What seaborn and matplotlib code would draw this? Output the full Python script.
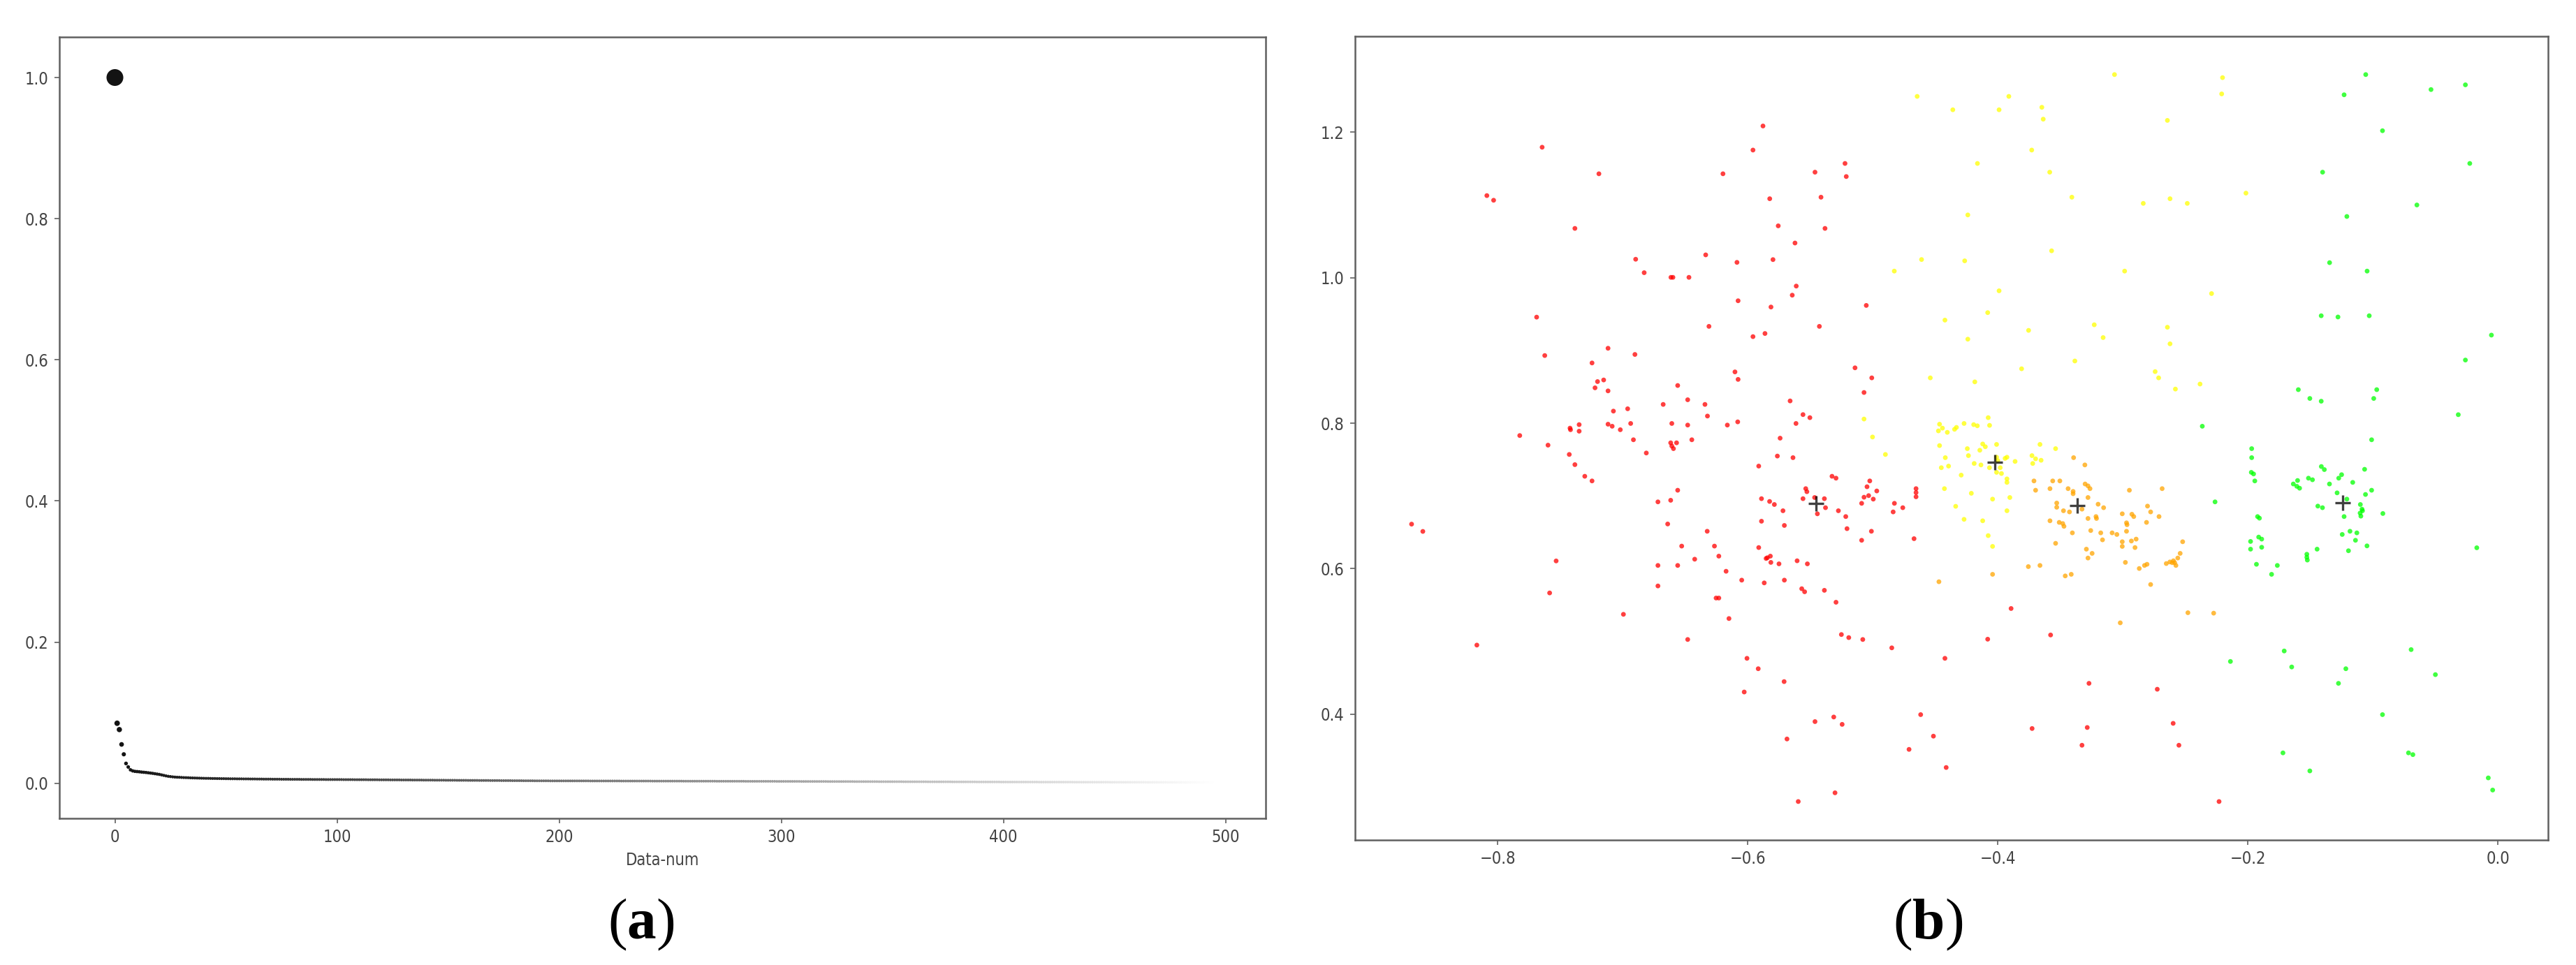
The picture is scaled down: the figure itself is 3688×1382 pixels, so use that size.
import matplotlib
matplotlib.use("Agg")
import matplotlib.pyplot as plt
import numpy as np
import pandas as pd
import seaborn as sns

# ---------------- panel (a): sorted weights ----------------
weight_values = [
    1.0, 0.085, 0.076, 0.055, 0.041, 0.028, 0.023, 0.019, 0.0175, 0.0168,
    0.0165, 0.0162, 0.0158, 0.0155, 0.0152, 0.0148, 0.0144, 0.0140, 0.0135, 0.0130,
    0.0125, 0.0118, 0.0111, 0.0104, 0.0098, 0.0094, 0.0090, 0.0087, 0.0085, 0.0084,
    0.0082, 0.0080, 0.0079, 0.0078, 0.0076, 0.0075, 0.0074, 0.0073, 0.0072, 0.0071,
    0.0070, 0.0069, 0.0069, 0.0068, 0.0067, 0.0067, 0.0066, 0.0066, 0.0065, 0.0065,
    0.0064, 0.0064, 0.0063, 0.0063, 0.0063, 0.0062, 0.0062, 0.0062, 0.0061, 0.0061,
    0.0061, 0.0060, 0.0060, 0.0060, 0.0059, 0.0059, 0.0059, 0.0058, 0.0058, 0.0058,
    0.0058, 0.0057, 0.0057, 0.0057, 0.0057, 0.0056, 0.0056, 0.0056, 0.0056, 0.0055,
    0.0055, 0.0055, 0.0055, 0.0055, 0.0054, 0.0054, 0.0054, 0.0054, 0.0054, 0.0053,
    0.0053, 0.0053, 0.0053, 0.0053, 0.0053, 0.0052, 0.0052, 0.0052, 0.0052, 0.0052,
    0.0052, 0.0052, 0.0052, 0.0051, 0.0051, 0.0051, 0.0051, 0.0051, 0.0050, 0.0050,
    0.0050, 0.0050, 0.0050, 0.0050, 0.0049, 0.0049, 0.0049, 0.0049, 0.0049, 0.0048,
    0.0048, 0.0048, 0.0048, 0.0048, 0.0047, 0.0047, 0.0047, 0.0047, 0.0047, 0.0046,
    0.0046, 0.0046, 0.0046, 0.0046, 0.0045, 0.0045, 0.0045, 0.0045, 0.0045, 0.0044,
    0.0044, 0.0044, 0.0044, 0.0044, 0.0043, 0.0043, 0.0043, 0.0043, 0.0043, 0.0042,
    0.0042, 0.0042, 0.0042, 0.0042, 0.0041, 0.0041, 0.0041, 0.0041, 0.0041, 0.0040,
    0.0040, 0.0040, 0.0040, 0.0040, 0.0039, 0.0039, 0.0039, 0.0039, 0.0039, 0.0038,
    0.0038, 0.0038, 0.0038, 0.0038, 0.0037, 0.0037, 0.0037, 0.0037, 0.0037, 0.0036,
    0.0036, 0.0036, 0.0036, 0.0036, 0.0035, 0.0035, 0.0035, 0.0035, 0.0035, 0.0034,
    0.0034, 0.0034, 0.0034, 0.0034, 0.0034, 0.0034, 0.0033, 0.0033, 0.0033, 0.0033,
    0.0033, 0.0033, 0.0033, 0.0033, 0.0033, 0.0033, 0.0033, 0.0033, 0.0033, 0.0033,
    0.0033, 0.0033, 0.0033, 0.0033, 0.0032, 0.0032, 0.0032, 0.0032, 0.0032, 0.0032,
    0.0032, 0.0032, 0.0032, 0.0032, 0.0032, 0.0032, 0.0032, 0.0032, 0.0031, 0.0031,
    0.0031, 0.0031, 0.0031, 0.0031, 0.0031, 0.0031, 0.0031, 0.0031, 0.0031, 0.0031,
    0.0031, 0.0031, 0.0030, 0.0030, 0.0030, 0.0030, 0.0030, 0.0030, 0.0030, 0.0030,
    0.0030, 0.0030, 0.0030, 0.0030, 0.0030, 0.0030, 0.0029, 0.0029, 0.0029, 0.0029,
    0.0029, 0.0029, 0.0029, 0.0029, 0.0029, 0.0029, 0.0029, 0.0029, 0.0029, 0.0029,
    0.0029, 0.0028, 0.0028, 0.0028, 0.0028, 0.0028, 0.0028, 0.0028, 0.0028, 0.0028,
    0.0028, 0.0028, 0.0028, 0.0028, 0.0027, 0.0027, 0.0027, 0.0027, 0.0027, 0.0027,
    0.0027, 0.0027, 0.0027, 0.0027, 0.0027, 0.0027, 0.0027, 0.0027, 0.0026, 0.0026,
    0.0026, 0.0026, 0.0026, 0.0026, 0.0026, 0.0026, 0.0026, 0.0026, 0.0026, 0.0025,
    0.0025, 0.0025, 0.0025, 0.0025, 0.0025, 0.0025, 0.0025, 0.0025, 0.0025, 0.0025,
    0.0025, 0.0024, 0.0024, 0.0024, 0.0024, 0.0024, 0.0024, 0.0024, 0.0024, 0.0024,
    0.0024, 0.0024, 0.0024, 0.0023, 0.0023, 0.0023, 0.0023, 0.0023, 0.0023, 0.0023,
    0.0023, 0.0023, 0.0023, 0.0023, 0.0022, 0.0022, 0.0022, 0.0022, 0.0022, 0.0022,
    0.0022, 0.0022, 0.0022, 0.0022, 0.0022, 0.0021, 0.0021, 0.0021, 0.0021, 0.0021,
    0.0021, 0.0021, 0.0021, 0.0021, 0.0021, 0.0021, 0.0020, 0.0020, 0.0020, 0.0020,
    0.0020, 0.0020, 0.0020, 0.0020, 0.0020, 0.0020, 0.0020, 0.0019, 0.0019, 0.0019,
    0.0019, 0.0019, 0.0019, 0.0019, 0.0019, 0.0019, 0.0019, 0.0019, 0.0018, 0.0018,
    0.0018, 0.0018, 0.0018, 0.0018, 0.0018, 0.0018, 0.0018, 0.0018, 0.0018, 0.0017,
    0.0017, 0.0017, 0.0017, 0.0017, 0.0017, 0.0017, 0.0017, 0.0017, 0.0017, 0.0017,
    0.0017, 0.0017, 0.0017, 0.0017, 0.0017, 0.0017, 0.0016, 0.0016, 0.0016, 0.0016,
    0.0016, 0.0016, 0.0016, 0.0016, 0.0016, 0.0016, 0.0016, 0.0016, 0.0016, 0.0016,
    0.0016, 0.0016, 0.0015, 0.0015, 0.0015, 0.0015, 0.0015, 0.0015, 0.0015, 0.0015,
    0.0015, 0.0015, 0.0015, 0.0015, 0.0015, 0.0015, 0.0015, 0.0015, 0.0014, 0.0014,
    0.0014, 0.0014, 0.0014, 0.0014, 0.0014, 0.0014, 0.0014, 0.0014, 0.0014, 0.0014,
    0.0014, 0.0014, 0.0014, 0.0014, 0.0013, 0.0013, 0.0013, 0.0013, 0.0013, 0.0013,
    0.0013, 0.0013, 0.0013, 0.0013, 0.0013, 0.0013, 0.0013, 0.0013, 0.0013, 0.0013,
    0.0013, 0.0013, 0.0012, 0.0012, 0.0012, 0.0012, 0.0012, 0.0012, 0.0012, 0.0012,
    0.0012, 0.0012, 0.0012, 0.0012, 0.0012, 0.0012, 0.0011, 0.0011,
]
a_xlabel = "Data-num"
a_xticks = [0, 100, 200, 300, 400, 500]
a_yticks = [0.0, 0.2, 0.4, 0.6, 0.8, 1.0]

# ---------------- panel (b): clustered points ----------------
red_points = [
    (-0.4654, 0.7101), (-0.4654, 0.7047), (-0.4654, 0.6989), (-0.4827, 0.6899), (-0.4837, 0.6781),
    (-0.4760, 0.6839), (-0.4670, 0.6413), (-0.3894, 0.5453),
    (-0.6560, 0.8519), (-0.6960, 0.8199), (-0.6936, 0.7997), (-0.6914, 0.7773), (-0.6811, 0.7591),
    (-0.6676, 0.8259), (-0.6480, 0.8323), (-0.6342, 0.8259), (-0.6322, 0.8099), (-0.6607, 0.7997),
    (-0.6480, 0.7975), (-0.6163, 0.7975), (-0.6080, 0.8019), (-0.6616, 0.7731), (-0.6569, 0.7731),
    (-0.6607, 0.7687), (-0.6594, 0.7651), (-0.6447, 0.7773), (-0.5661, 0.8307), (-0.5558, 0.8119),
    (-0.5503, 0.8077), (-0.5614, 0.7997), (-0.5741, 0.7795), (-0.5763, 0.7549), (-0.5638, 0.7527),
    (-0.5912, 0.7411), (-0.5070, 0.8423), (-0.5326, 0.7271), (-0.5294, 0.7245), (-0.5536, 0.7101),
    (-0.5527, 0.7059), (-0.5890, 0.6963), (-0.5825, 0.6925), (-0.5787, 0.6883), (-0.5718, 0.6797),
    (-0.5558, 0.6963), (-0.5465, 0.6979), (-0.5387, 0.6963), (-0.5443, 0.6755), (-0.5378, 0.6839),
    (-0.5275, 0.6797), (-0.5216, 0.6717), (-0.5206, 0.6551), (-0.5024, 0.7207), (-0.5046, 0.7127),
    (-0.4968, 0.7069), (-0.5070, 0.6983), (-0.5033, 0.7005), (-0.4996, 0.6957), (-0.5089, 0.6899),
    (-0.5011, 0.6515), (-0.5089, 0.6391), (-0.5890, 0.6653), (-0.5707, 0.6595), (-0.6560, 0.7079),
    (-0.6718, 0.6919), (-0.6616, 0.6941), (-0.6640, 0.6615), (-0.6324, 0.6515), (-0.6528, 0.6311),
    (-0.6266, 0.6311), (-0.6231, 0.6173), (-0.6424, 0.6131), (-0.6718, 0.6045), (-0.6560, 0.6045),
    (-0.6173, 0.5965), (-0.6718, 0.5763), (-0.6048, 0.5843), (-0.5912, 0.6291), (-0.5843, 0.6151),
    (-0.5819, 0.6173), (-0.5853, 0.6141), (-0.5815, 0.6087), (-0.5750, 0.6067), (-0.5605, 0.6109),
    (-0.5523, 0.6067), (-0.5868, 0.5805), (-0.5707, 0.5843), (-0.5568, 0.5725), (-0.5545, 0.5683),
    (-0.5387, 0.5703), (-0.5294, 0.5539), (-0.6253, 0.5597), (-0.6231, 0.5597), (-0.6994, 0.5373),
    (-0.6150, 0.5315), (-0.6480, 0.5027), (-0.5251, 0.5095), (-0.5192, 0.5053), (-0.5080, 0.5027),
    (-0.7688, 0.9459), (-0.7623, 0.8931), (-0.7117, 0.9031), (-0.7245, 0.8829), (-0.7201, 0.8573),
    (-0.7152, 0.8595), (-0.7221, 0.8487), (-0.7117, 0.8445), (-0.7074, 0.8167), (-0.7823, 0.7831),
    (-0.7597, 0.7699), (-0.7427, 0.7571), (-0.7382, 0.7431), (-0.7303, 0.7271), (-0.7245, 0.7207),
    (-0.7421, 0.7933), (-0.7417, 0.7911), (-0.7348, 0.7981), (-0.7348, 0.7891), (-0.7117, 0.7987),
    (-0.7084, 0.7959), (-0.7019, 0.7911),
    (-0.8086, 1.1130), (-0.8032, 1.1066), (-0.7644, 1.1795), (-0.7190, 1.1430), (-0.7382, 1.0679),
    (-0.6896, 1.0255), (-0.6828, 1.0070), (-0.6614, 1.0006), (-0.6598, 1.0006), (-0.6470, 1.0006),
    (-0.6336, 1.0315), (-0.6198, 1.1430), (-0.6086, 1.0212), (-0.5958, 1.1756), (-0.5878, 1.2087),
    (-0.5824, 1.1087), (-0.5756, 1.0714), (-0.5798, 1.0250), (-0.5622, 1.0478), (-0.5462, 1.1452),
    (-0.5414, 1.1108), (-0.5382, 1.0679), (-0.5222, 1.1572), (-0.5212, 1.1392), (-0.5612, 0.9886),
    (-0.5644, 0.9761), (-0.6077, 0.9684), (-0.5814, 0.9598), (-0.5052, 0.9620), (-0.6310, 0.9332),
    (-0.5427, 0.9332), (-0.5958, 0.9191), (-0.5862, 0.9234), (-0.6902, 0.8946), (-0.6102, 0.8706),
    (-0.6077, 0.8603), (-0.5142, 0.8762), (-0.5008, 0.8624),
    (-0.8688, 0.6613), (-0.8598, 0.6513), (-0.7532, 0.6107), (-0.7584, 0.5667), (-0.8166, 0.4950),
    (-0.6028, 0.4305), (-0.6006, 0.4768), (-0.5916, 0.4625), (-0.5709, 0.4448), (-0.5686, 0.3659),
    (-0.5596, 0.2799), (-0.5462, 0.3898), (-0.5312, 0.3961), (-0.5245, 0.3860), (-0.5302, 0.2919),
    (-0.4848, 0.4912), (-0.4710, 0.3516),
    (-0.4423, 0.4768), (-0.4081, 0.5031), (-0.3578, 0.5089), (-0.3271, 0.4424), (-0.2725, 0.4343),
    (-0.4617, 0.3994), (-0.4515, 0.3698), (-0.4413, 0.3267), (-0.3726, 0.3803), (-0.3285, 0.3817),
    (-0.3327, 0.3573), (-0.2598, 0.3874), (-0.2552, 0.3573), (-0.2231, 0.2799),
]
yellow_points = [
    (-0.4899, 0.7571), (-0.4466, 0.7987), (-0.4443, 0.7933), (-0.4475, 0.7895), (-0.4404, 0.7875),
    (-0.4346, 0.7917), (-0.4331, 0.7943), (-0.4270, 0.7997), (-0.4193, 0.7981), (-0.4164, 0.7965),
    (-0.4077, 0.8077), (-0.4066, 0.7971), (-0.4466, 0.7693), (-0.4420, 0.7527), (-0.4452, 0.7389),
    (-0.4394, 0.7411), (-0.4244, 0.7651), (-0.4235, 0.7555), (-0.4144, 0.7629), (-0.4121, 0.7715),
    (-0.4100, 0.7677), (-0.4010, 0.7709), (-0.4293, 0.7287), (-0.4189, 0.7447), (-0.4135, 0.7427),
    (-0.4010, 0.7533), (-0.4000, 0.7485), (-0.3981, 0.7389), (-0.4067, 0.7389), (-0.4010, 0.7325),
    (-0.3971, 0.7309), (-0.3942, 0.7517), (-0.3927, 0.7533), (-0.3862, 0.7475), (-0.3927, 0.7235),
    (-0.3927, 0.7187), (-0.3727, 0.7555), (-0.3698, 0.7511), (-0.3721, 0.7447), (-0.3654, 0.7491),
    (-0.3663, 0.7709), (-0.3538, 0.7651), (-0.4427, 0.7101), (-0.4212, 0.7037), (-0.4042, 0.6957),
    (-0.3904, 0.6979), (-0.4337, 0.6858), (-0.3927, 0.6797), (-0.4270, 0.6679), (-0.4121, 0.6659),
    (-0.4077, 0.6455), (-0.4042, 0.6307),
    (-0.5070, 0.8058), (-0.5002, 0.7811), (-0.4828, 1.0092),
    (-0.4645, 1.2494), (-0.4360, 1.2310), (-0.3990, 1.2310), (-0.3912, 1.2494), (-0.3648, 1.2344),
    (-0.3637, 1.2181), (-0.3067, 1.2794), (-0.2644, 1.2164), (-0.2203, 1.2752), (-0.2210, 1.2528),
    (-0.3729, 1.1756), (-0.4163, 1.1572), (-0.3585, 1.1452), (-0.3408, 1.1108), (-0.2837, 1.1023),
    (-0.2623, 1.1087), (-0.2485, 1.1023), (-0.2016, 1.1164), (-0.4240, 1.0864), (-0.3570, 1.0371),
    (-0.4610, 1.0251), (-0.4265, 1.0233), (-0.2986, 1.0092), (-0.3990, 0.9821), (-0.2291, 0.9783),
    (-0.4081, 0.9521), (-0.4423, 0.9418), (-0.3754, 0.9277), (-0.4240, 0.9156), (-0.3229, 0.9354),
    (-0.3158, 0.9178), (-0.2644, 0.9320), (-0.2623, 0.9092), (-0.3384, 0.8856), (-0.3810, 0.8749),
    (-0.4540, 0.8624), (-0.4184, 0.8569), (-0.2742, 0.8710), (-0.2714, 0.8624), (-0.2580, 0.8470),
    (-0.2383, 0.8539),
]
orange_points = [
    (-0.3394, 0.7527), (-0.3304, 0.7427), (-0.3711, 0.7207), (-0.3561, 0.7207), (-0.3504, 0.7207),
    (-0.3698, 0.7079), (-0.3583, 0.7101), (-0.3438, 0.7101), (-0.3398, 0.7063), (-0.3398, 0.7031),
    (-0.3302, 0.7165), (-0.3279, 0.7139), (-0.3263, 0.7101), (-0.3279, 0.6979), (-0.2948, 0.7079),
    (-0.2686, 0.7101), (-0.3529, 0.6903), (-0.3529, 0.6845), (-0.3475, 0.6797), (-0.3427, 0.6781),
    (-0.3327, 0.6819), (-0.3198, 0.6887), (-0.3154, 0.6839), (-0.3005, 0.6755), (-0.2928, 0.6749),
    (-0.2913, 0.6717), (-0.2803, 0.6861), (-0.2778, 0.6781), (-0.2711, 0.6717), (-0.3279, 0.6691),
    (-0.3215, 0.6717), (-0.3211, 0.6691), (-0.3583, 0.6659), (-0.3509, 0.6637), (-0.3481, 0.6621),
    (-0.3471, 0.6583), (-0.2971, 0.6631), (-0.2967, 0.6605), (-0.2811, 0.6637), (-0.3404, 0.6493),
    (-0.3257, 0.6525), (-0.3177, 0.6493), (-0.3086, 0.6493), (-0.3048, 0.6471), (-0.2971, 0.6515),
    (-0.3163, 0.6397), (-0.3005, 0.6371), (-0.3005, 0.6307), (-0.2932, 0.6381), (-0.2894, 0.6407),
    (-0.2903, 0.6291), (-0.3538, 0.6349), (-0.2522, 0.6371), (-0.3292, 0.6269), (-0.3246, 0.6211),
    (-0.3279, 0.6147), (-0.2542, 0.6211), (-0.2561, 0.6147), (-0.2653, 0.6071), (-0.2624, 0.6093),
    (-0.2605, 0.6083), (-0.2586, 0.6083), (-0.2576, 0.6045), (-0.2596, 0.6109), (-0.2980, 0.6087),
    (-0.2869, 0.6003), (-0.2827, 0.6045), (-0.2807, 0.6061), (-0.3756, 0.6029), (-0.3663, 0.6045),
    (-0.3461, 0.5901), (-0.3413, 0.5923), (-0.4042, 0.5923), (-0.4471, 0.5821), (-0.2778, 0.5783),
    (-0.2480, 0.5395), (-0.2274, 0.5389), (-0.3021, 0.5256),
]
green_points = [
    (-0.2365, 0.7959), (-0.2263, 0.6919),
    (-0.1011, 0.7773), (-0.1970, 0.7651), (-0.1970, 0.7527), (-0.1973, 0.7325), (-0.1955, 0.7303),
    (-0.1945, 0.7207), (-0.1413, 0.7405), (-0.1389, 0.7363), (-0.1067, 0.7367), (-0.1516, 0.7245),
    (-0.1484, 0.7223), (-0.1603, 0.7213), (-0.1637, 0.7165), (-0.1609, 0.7133), (-0.1587, 0.7107),
    (-0.1348, 0.7165), (-0.1274, 0.7245), (-0.1251, 0.7293), (-0.1162, 0.7187), (-0.1287, 0.7043),
    (-0.1011, 0.7079), (-0.1060, 0.7021), (-0.1209, 0.6957), (-0.1101, 0.6883), (-0.1088, 0.6819),
    (-0.1103, 0.6765), (-0.1097, 0.6723), (-0.1084, 0.6797), (-0.1441, 0.6861), (-0.1404, 0.6839),
    (-0.0921, 0.6759), (-0.1923, 0.6717), (-0.1908, 0.6695), (-0.1231, 0.6717), (-0.1184, 0.6515),
    (-0.1129, 0.6493), (-0.1246, 0.6471), (-0.1140, 0.6391), (-0.1914, 0.6435), (-0.1890, 0.6407),
    (-0.1979, 0.6375), (-0.1979, 0.6269), (-0.1890, 0.6295), (-0.1048, 0.6314), (-0.1447, 0.6269),
    (-0.1196, 0.6247), (-0.1529, 0.6199), (-0.1529, 0.6157), (-0.1525, 0.6119), (-0.1932, 0.6061),
    (-0.1765, 0.6045), (-0.1811, 0.5923),
    (-0.1058, 1.2794), (-0.1231, 1.2516), (-0.0536, 1.2588), (-0.0261, 1.2653), (-0.0924, 1.2022),
    (-0.0226, 1.1572), (-0.1403, 1.1452), (-0.0649, 1.1001), (-0.1209, 1.0843), (-0.1347, 1.0208),
    (-0.1047, 1.0092), (-0.1414, 0.9478), (-0.1280, 0.9461), (-0.1030, 0.9478), (-0.0053, 0.9212),
    (-0.0261, 0.8869), (-0.1597, 0.8462), (-0.1505, 0.8341), (-0.1414, 0.8303), (-0.0970, 0.8462),
    (-0.0994, 0.8341), (-0.0318, 0.8118),
    (-0.2140, 0.4725), (-0.1710, 0.4869), (-0.1650, 0.4649), (-0.0695, 0.4888), (-0.1217, 0.4625),
    (-0.1276, 0.4424), (-0.0501, 0.4544), (-0.0924, 0.3994), (-0.1720, 0.3468), (-0.1505, 0.3220),
    (-0.0716, 0.3468), (-0.0681, 0.3444), (-0.0078, 0.3124), (-0.0043, 0.2957), (-0.0170, 0.6288),
]
centroid_x = [-0.5452, -0.4023, -0.3365, -0.1243]
centroid_y = [0.6893, 0.7459, 0.6871, 0.6909]
cluster_names = ["red", "yellow", "orange", "green"]
cluster_colors = ["#ff0000", "#ffff00", "#ffa500", "#00ff00"]
b_xticks = [-0.8, -0.6, -0.4, -0.2, 0.0]
b_yticks = [0.4, 0.6, 0.8, 1.0, 1.2]
panel_labels = ["a", "b"]

# ---------------- style ----------------
sns.set_style("ticks")
plt.rcParams["font.family"] = ["DejaVu Sans"]
plt.rcParams["font.stretch"] = "condensed"
plt.rcParams["mathtext.fontset"] = "custom"
plt.rcParams["mathtext.rm"] = "Liberation Serif"
plt.rcParams["mathtext.bf"] = "Liberation Serif:bold"

W, H = 3688, 1382
fig = plt.figure(figsize=(W / 100, H / 100), dpi=100)
fig.patch.set_facecolor("white")

spine_col = "#606060"
tick_col = "#444444"


def style_axes(ax):
    for sp in ax.spines.values():
        sp.set_visible(True)
        sp.set_color(spine_col)
        sp.set_linewidth(1.8)
    ax.tick_params(axis="both", direction="out", length=5, width=1.2,
                   color=spine_col, labelcolor=tick_col, labelsize=17, pad=6)
    ax.set_facecolor("white")
    ax.grid(False)


# ---------------- panel (a) ----------------
ax_a = fig.add_axes([85 / W, 1 - 1172 / H, (1812 - 85) / W, (1172 - 53) / H])
df_a = pd.DataFrame({"idx": np.arange(len(weight_values)), "val": weight_values})
sns.scatterplot(data=df_a, x="idx", y="val", hue="idx", palette="gray",
                hue_norm=(-40, len(weight_values) - 1), size="val", sizes=(7, 300),
                size_norm=(0, 1), linewidth=0, legend=False, ax=ax_a)
ax_a.set_xlim(-25, 518)
ax_a.set_ylim(-0.0498, 1.0574)
ax_a.set_xticks(a_xticks)
ax_a.set_yticks(a_yticks)
ax_a.set_xticklabels([str(t) for t in a_xticks])
ax_a.set_yticklabels([f"{t:.1f}" for t in a_yticks])
ax_a.set_xlabel(a_xlabel, fontsize=17, color=tick_col, labelpad=6)
ax_a.set_ylabel("")
style_axes(ax_a)

# ---------------- panel (b) ----------------
ax_b = fig.add_axes([1940 / W, 1 - 1203 / H, (3648 - 1940) / W, (1203 - 52) / H])
frames = []
for name, pts in zip(cluster_names, [red_points, yellow_points, orange_points, green_points]):
    arr = np.array(pts)
    frames.append(pd.DataFrame({"x": arr[:, 0], "y": arr[:, 1], "cluster": name}))
df_b = pd.concat(frames, ignore_index=True)
sns.scatterplot(data=df_b, x="x", y="y", hue="cluster",
                palette=dict(zip(cluster_names, cluster_colors)),
                s=24, alpha=0.75, linewidth=0, legend=False, ax=ax_b)
sns.scatterplot(x=centroid_x, y=centroid_y, marker="+", s=240, color="black",
                alpha=0.75, linewidth=2.4, legend=False, ax=ax_b)
ax_b.set_xlim(-0.914, 0.040)
ax_b.set_ylim(0.227, 1.332)
ax_b.set_xticks(b_xticks)
ax_b.set_yticks(b_yticks)
ax_b.set_xticklabels([f"{t:.1f}".replace("-", "\u2212") for t in b_xticks])
ax_b.set_yticklabels([f"{t:.1f}" for t in b_yticks])
ax_b.set_xlabel("")
ax_b.set_ylabel("")
style_axes(ax_b)

# ---------------- panel labels ----------------
for lab, xc in zip(panel_labels, [918, 2760]):
    fig.text(xc / W, 1 - 1324 / H, "(" + r"$\mathbf{" + lab + "}$" + ")",
             ha="center", va="center", fontsize=60, fontfamily="Liberation Serif",
             color="black")

fig.savefig("out.png", dpi=100, facecolor="white")
